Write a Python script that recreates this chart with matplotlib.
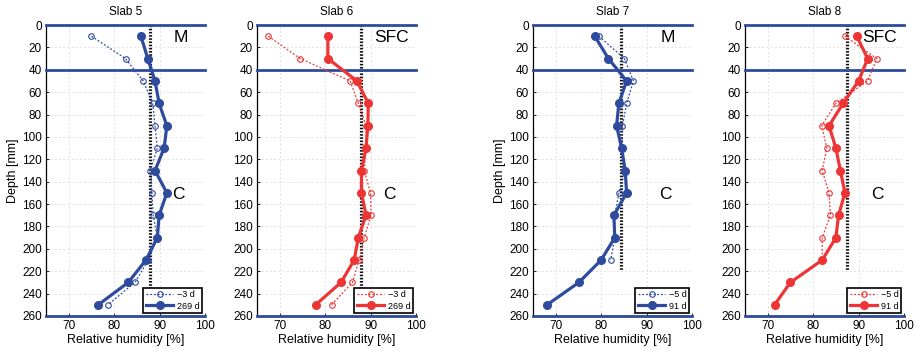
import numpy as np
import matplotlib
matplotlib.use("Agg")
import matplotlib.pyplot as plt

plt.rcParams['font.family'] = ['Liberation Sans', 'DejaVu Sans']

# Measurement depths [mm]
depth = [10, 30, 50, 70, 90, 110, 130, 150, 170, 190, 210, 230, 250]

# Relative humidity [%] per slab: early reading (open markers) and late reading (filled)
slab5_early = [75.0, 82.5, 86.4, 88.5, 89.0, 89.5, 88.0, 88.3, 88.6, 89.5, 87.5, 84.6, 78.6]
slab5_late = [85.9, 87.4, 89.0, 89.9, 91.6, 91.0, 89.0, 91.6, 89.9, 89.5, 87.0, 83.1, 76.5]
slab6_early = [67.5, 74.5, 85.5, 87.3, 89.0, 89.0, 88.6, 90.0, 90.1, 88.6, 87.5, 86.0, 81.4]
slab6_late = [80.6, 80.6, 87.0, 89.5, 89.4, 89.0, 88.0, 88.0, 89.0, 87.3, 86.4, 83.5, 77.9]
slab7_early = [79.5, 85.1, 87.1, 85.6, 84.7, 84.5, 85.3, 83.9, 83.0, 83.0, 82.1, np.nan, np.nan]
slab7_late = [78.6, 81.6, 85.6, 83.9, 83.4, 84.5, 85.3, 85.6, 82.8, 83.0, 80.0, 75.1, 68.1]
slab8_early = [87.0, 94.0, 92.0, 85.0, 81.9, 83.0, 82.0, 83.5, 83.8, 82.0, 82.0, np.nan, np.nan]
slab8_late = [89.6, 92.0, 90.0, 86.6, 83.5, 85.0, 86.0, 87.0, 85.6, 85.0, 82.0, 75.0, 71.5]

titles = ["Slab 5", "Slab 6", "Slab 7", "Slab 8"]
early_labels = ["\u22123 d", "\u22123 d", "\u22125 d", "\u22125 d"]
late_labels = ["269 d", "269 d", "91 d", "91 d"]
top_labels = ["M", "SFC", "M", "SFC"]

# Reference humidity (vertical dotted line) and its depth extent
ref_rh = [88.0, 88.0, 84.4, 87.5]
ref_depth_end = [235, 240, 220, 220]

# Layer boundaries [mm]
boundaries = [0, 40, 260]

early = [slab5_early, slab6_early, slab7_early, slab8_early]
late = [slab5_late, slab6_late, slab7_late, slab8_late]

BLUE = "#2F4B9E"
RED = "#EE3535"
colors = [BLUE, RED, BLUE, RED]

fig = plt.figure(figsize=(9.18, 3.52), dpi=100)
lefts = [46 / 918, 257 / 918, 533 / 918, 745 / 918]
width = 159 / 918
bottom = 36 / 352
height = 291 / 352

for i in range(4):
    ax = fig.add_axes([lefts[i], bottom, width, height])
    c = colors[i]
    ax.set_xlim(65, 100)
    ax.set_ylim(260, 0)
    ax.set_xticks([70, 80, 90, 100])
    ax.set_yticks(np.arange(0, 261, 20))
    ax.grid(True, color="#d8d8d8", linestyle=(0, (3, 3)), linewidth=0.5)
    ax.set_axisbelow(True)
    for s in ["top", "right"]:
        ax.spines[s].set_visible(False)
    ax.spines["left"].set_linewidth(0.9)
    ax.spines["bottom"].set_linewidth(0.9)
    ax.tick_params(direction="in", length=2.5, width=0.6, labelsize=8.5, pad=3)

    for b in boundaries:
        ax.axhline(b, color=BLUE, linewidth=2.0, zorder=4, clip_on=False)

    ax.plot([ref_rh[i], ref_rh[i]], [0, ref_depth_end[i]], color="#111111",
            linewidth=2.3, linestyle=(0, (0.5, 0.5)), zorder=3)

    ax.plot(early[i], depth, linestyle=(0, (1.5, 1.5)), linewidth=0.9, color=c,
            marker="o", markersize=4.0, markerfacecolor="none",
            markeredgewidth=0.8, label=early_labels[i], zorder=5)
    ax.plot(late[i], depth, linestyle="-", linewidth=2.3, color=c,
            marker="o", markersize=5.5, markerfacecolor=c,
            markeredgecolor=c, label=late_labels[i], zorder=6)

    ax.text(94.6, 11, top_labels[i], fontsize=12.5, ha="center", va="center", zorder=7)
    ax.text(94.2, 151, "C", fontsize=12.5, ha="center", va="center", zorder=7)

    ax.set_title(titles[i], fontsize=8.5, pad=7)
    ax.set_xlabel("Relative humidity [%]", fontsize=9, labelpad=1)
    if i in (0, 2):
        ax.set_ylabel("Depth [mm]", fontsize=9, labelpad=2)

    leg = ax.legend(loc="lower right", fontsize=6.5, handlelength=3.0,
                    borderpad=0.3, labelspacing=0.25, handletextpad=0.4,
                    borderaxespad=0.3, fancybox=False, framealpha=1)
    leg.get_frame().set_edgecolor("black")
    leg.get_frame().set_linewidth(1.2)
    leg.set_zorder(10)

fig.savefig("out.png", dpi=100)
